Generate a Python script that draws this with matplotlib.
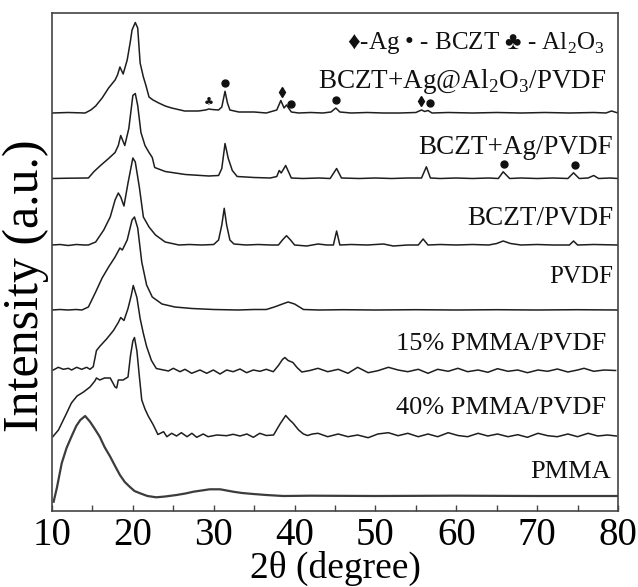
import numpy as np
import matplotlib
matplotlib.use("Agg")
import matplotlib.pyplot as plt
from matplotlib.ticker import MultipleLocator

plt.rcParams['font.family'] = ['Liberation Serif', 'DejaVu Serif', 'DejaVu Sans']
plt.rcParams['mathtext.fontset'] = 'custom'
plt.rcParams['mathtext.rm'] = 'Liberation Serif'

# ---- data: (2theta, relative intensity) pairs ----
bczt_ag_al2o3 = [(10, 0), (12, 0.5), (14.1, 0), (14.8, 3), (15.4, 7), (16.2, 15), (17.0, 25), (17.8, 33),
                 (18.1, 38), (18.4, 46), (18.8, 39), (19.3, 53), (19.7, 72), (19.9, 83), (20.3, 90.5),
                 (20.6, 85), (20.9, 50), (21.3, 36), (21.6, 28), (22.0, 16), (22.5, 13), (23.2, 10),
                 (24.0, 7), (24.8, 5), (26.4, 2), (28.1, 2), (29.0, 3), (29.4, 4), (29.8, 3.5), (30.6, 3),
                 (31.0, 6), (31.4, 21.7), (31.7, 10), (32.0, 3), (33.1, 1), (35, 1), (36.5, 0), (37.8, 3),
                 (38.3, 12.5), (38.7, 5), (39.0, 8), (39.6, 1), (40.5, 0), (42, 0.5), (43.5, 0), (44.5, 1),
                 (45.1, 5), (45.6, 1), (47, 0), (49, 0.5), (51, 0), (53, 0), (55.0, 0.5), (55.7, 3),
                 (56.1, 1.5), (56.5, 2.5), (57.0, 0), (59, 0.5), (62, 0), (65, 0.5), (68, 0), (71, 0.5),
                 (74, 0), (77, 0.5), (78.5, 0), (79.2, 2), (80, 0)]
bczt_ag = [(10, 0), (12, 0.3), (14.5, 0.5), (15.2, 7), (16.0, 13), (17.0, 20), (17.8, 26), (18.2, 33),
           (18.5, 43), (19.0, 33), (19.5, 50), (20.0, 83), (20.3, 85), (20.6, 73), (21.0, 46), (21.5, 33),
           (22.0, 26), (22.4, 21), (22.7, 11), (24.0, 7), (26.5, 4), (29.4, 2.5), (30.6, 3), (31.0, 10),
           (31.4, 35), (31.8, 20), (32.3, 8), (32.9, 2), (35, 1), (37.0, 0.5), (37.8, 2), (38.1, 8),
           (38.35, 5.5), (38.9, 13), (39.6, 0.5), (41, 0), (43, 0.5), (44.4, 0), (45.2, 10), (45.8, 0.5),
           (48, 0), (50, 0.5), (52, 0), (54, 0.5), (55.7, 0.5), (56.3, 11.7), (56.8, 0.5), (58, 0),
           (60, 0.5), (62, 0), (64, 0.5), (65.2, 0), (65.8, 6.7), (66.6, 0), (68, 0.5), (70, 0),
           (72, 0.5), (73.8, 0), (74.5, 5.7), (75.2, 0), (76.3, 0.5), (77.0, 3), (77.6, 0), (79, 0.5), (80, 0)]
bczt = [(10, 0), (11, 0.5), (12, -0.5), (13, 0.5), (14, 0), (14.5, 0), (15.4, 3), (16.4, 15), (17.2, 28),
        (17.8, 45), (18.2, 52), (18.5, 48), (18.9, 39), (19.4, 62), (20.0, 87), (20.3, 83), (20.8, 58),
        (21.3, 28), (22.0, 18), (22.8, 10), (24.0, 3), (25.7, 0), (27, 0.5), (28.5, 0), (30.0, 0.5),
        (30.6, 5), (31.0, 20), (31.3, 36.7), (31.6, 20), (32.0, 5), (32.5, 1), (34, 0), (35.5, 0.5),
        (37, 0), (38.0, 0), (38.5, 5), (39.0, 9.3), (39.5, 5), (40.0, 0), (41.5, -1), (42.9, 1),
        (44.0, 0), (44.8, 0), (45.2, 14), (45.6, 0), (47, 0.5), (49, 0), (51.0, 1), (52.2, -1), (54, 0),
        (55.3, 0), (55.9, 6), (56.5, 0), (58, 0.5), (60, 0), (62, 0.5), (64.0, 0), (65.0, 1.5),
        (65.8, 4), (66.7, 1.5), (68, 0), (70, 0.5), (72, 0), (74.0, 0), (74.5, 4), (75.0, 0),
        (77, 0.5), (80, 0)]
pvdf = [(10, 0), (11, 0.5), (12, 0), (13, 0.5), (13.7, 0), (14.5, 3), (15.4, 18), (16.2, 32), (17.0, 43),
        (17.8, 53), (18.4, 62), (18.7, 60), (19.3, 70), (19.9, 90), (20.2, 93), (20.6, 82), (21.1, 48),
        (21.7, 25), (22.4, 13), (23.6, 6), (25.2, 3), (27.3, 1.5), (30, 0.5), (33, 0), (35, 0.5),
        (36.5, 0.5), (37.5, 3), (38.5, 6), (39.2, 8), (40.0, 6), (41.1, 0.5), (43, 0), (46, 0.3),
        (50, 0), (55, 0.3), (60, 0), (65, 0.3), (70, 0), (75, 0.3), (80, 0)]
pmma15 = [(10.16, 0.5), (10.78, 3.2), (11.40, 1.2), (12.02, 2.2), (12.43, 0.5), (13.05, 3.2), (13.67, 1.2),
          (14.29, 3.2), (14.70, 1.2), (15.1, 3.8), (15.5, 20), (15.9, 24), (16.8, 32), (17.6, 40),
          (18.2, 48), (18.5, 53), (18.9, 50), (19.4, 62), (19.8, 75), (20.05, 85), (20.5, 73), (20.9, 52),
          (21.3, 37), (21.7, 24), (22.3, 10), (22.9, 2), (23.8, 0.5), (24.4, -0.5), (25.0, 2.2),
          (25.83, -1.2), (26.45, 1.2), (27.27, -2.8), (28.3, 0.5), (29.13, -2.8), (29.95, 0.5),
          (30.78, -3.5), (31.6, 0.5), (32.4, -1.2), (33.25, 1.5), (34.07, -2.2), (34.9, 0.5),
          (35.72, -0.8), (36.5, 1.2), (37.37, -1.2), (38.0, 5), (38.5, 11), (38.8, 13), (39.2, 10),
          (39.8, 8), (40.3, 3), (40.9, -1.5), (41.9, 0), (42.9, 2.2), (44.1, -1.2), (45.4, 1.2),
          (46.6, -2.8), (47.8, 3.2), (49.1, -2.2), (50.3, -0.2), (51.6, 3.2), (52.8, 0.5), (54.0, -1.2),
          (55.3, 1.2), (56.5, -2.8), (57.7, 1.2), (59.0, -0.8), (60.2, 2.2), (61.4, -1.2), (62.7, 0.5),
          (63.9, -1.8), (65.1, 1.8), (66.4, -0.8), (67.6, 0.5), (68.8, -2.2), (70.1, 0.5), (71.3, -0.8),
          (72.5, 1.5), (73.8, -1.5), (75.0, 0.5), (75.8, 2.2), (77.0, -0.8), (78.3, 0.5), (79.7, 0)]
pmma40 = [(10.1, -0.7), (10.8, 6), (11.8, 22.7), (12.4, 33), (13.1, 40), (13.9, 44), (14.7, 49),
          (15.3, 55), (15.5, 58), (15.9, 56), (16.5, 58), (17.2, 58), (17.8, 49), (18.0, 48), (18.2, 56),
          (18.8, 56), (19.4, 59), (19.7, 80), (20.0, 95), (20.2, 98.5), (20.5, 85), (20.8, 60),
          (21.1, 36), (21.5, 27), (21.9, 20), (22.5, 11.5), (23.1, 1.5), (23.8, 4.3), (24.2, -0.7),
          (24.8, 2.7), (25.4, 0), (26.0, 3.3), (26.7, -0.7), (27.3, 2.7), (27.9, -1.3), (28.7, 2),
          (29.3, -0.7), (30.4, 1), (31.6, 0.3), (32.4, 1.7), (33.25, 0), (34.1, 2), (34.9, -1.3),
          (35.7, 2.7), (36.5, 0.5), (37.4, 1), (38.2, 12), (38.9, 20.5), (39.4, 16), (39.8, 13),
          (40.5, 6), (41.1, 2), (41.6, 0.5), (42.2, 2), (42.9, 2.7), (44.1, -0.7), (45.4, 2),
          (46.6, -0.7), (47.8, 1), (49.1, -1.7), (50.3, 2), (51.6, 3.3), (52.8, 0.3), (54.0, 2.7),
          (55.3, -0.7), (56.5, 2), (57.7, -0.7), (59.0, 3.3), (60.2, 0.5), (61.4, -0.7), (62.7, 2.7),
          (63.9, 0), (65.1, 2), (66.4, -0.7), (67.6, 1.3), (68.8, -1.3), (70.1, 2.7), (71.3, 0.3),
          (72.5, -0.7), (73.8, 2), (75.0, -0.7), (76.3, 2.7), (77.5, 0), (78.7, 1), (79.8, 0)]
pmma = [(10.2, -5.7), (10.6, 8), (11.2, 32.7), (11.8, 48), (12.4, 59.3), (13.0, 70), (13.5, 76),
        (14.1, 80), (14.7, 74.3), (15.3, 67), (15.9, 59.3), (16.5, 49), (17.2, 39.3), (17.8, 30),
        (18.4, 21), (19.0, 14), (19.6, 9.3), (20.2, 5), (20.9, 2.7), (21.8, 0), (22.9, -1.3), (24.0, -0.5),
        (25.4, 1), (26.5, 2.5), (27.5, 4.3), (28.5, 5.5), (29.5, 6.7), (30.8, 6.7), (31.6, 5.5),
        (32.4, 4.3), (33.5, 3), (34.9, 2), (36.5, 1), (38.6, 0), (42, 0.3), (50, 0), (60, 0.3),
        (70, 0), (80, 0)]

patterns = [bczt_ag_al2o3, bczt_ag, bczt, pvdf, pmma15, pmma40, pmma]
sample_names = ['BCZT+Ag@Al$_\\mathregular{2}$O$_\\mathregular{3}$/PVDF', 'BCZT+Ag/PVDF', 'BCZT/PVDF',
                'PVDF', '15% PMMA/PVDF', '40% PMMA/PVDF', 'PMMA']

# phase marks: (curve index, peak 2theta)
ag_peaks = [(0, 38.4), (0, 55.6)]
bczt_peaks = [(0, 31.4), (0, 39.5), (0, 45.1), (0, 56.7), (1, 65.9), (1, 74.7)]
al2o3_peaks = [(0, 29.4)]

# ---- layout / style ----
offsets = [398, 332.5, 266, 201, 140.5, 75, 15]
label_x = [78.6, 79.4, 79.4, 79.4, 78.5, 78.5, 79.1]
label_y = [422.7, 357, 286, 227.7, 161, 97, 32.7]
label_size = [19.5, 19.5, 19.5, 18, 19, 19, 19]

fig = plt.figure(figsize=(6.38, 5.87), dpi=100)
ax = fig.add_axes([52 / 638, 76 / 587, 566 / 638, 498 / 587])

for i, pat in enumerate(patterns):
    arr = np.array(pat, dtype=float)
    if i == 6:
        ax.plot(arr[:, 0], arr[:, 1] + offsets[i], color='#3c3c3c', lw=1.6)
    else:
        ax.plot(arr[:, 0], arr[:, 1] + offsets[i], color='#1e1e1e', lw=1.1)
    ax.text(label_x[i], label_y[i], sample_names[i], ha='right', va='baseline',
            fontsize=label_size[i], color='#111111')


def mark_y(ci, x0):
    arr = np.array(patterns[ci], dtype=float)
    sel = (arr[:, 0] > x0 - 0.45) & (arr[:, 0] < x0 + 0.45)
    top = arr[sel, 1].max() if sel.any() else np.interp(x0, arr[:, 0], arr[:, 1])
    return top + offsets[ci]


for ci, x0 in ag_peaks:
    ax.plot([x0], [mark_y(ci, x0) + 9], marker='d', ms=5, color='#111111', ls='none')
for ci, x0 in bczt_peaks:
    ax.plot([x0], [mark_y(ci, x0) + 8], marker='o', ms=5, color='#111111', ls='none')
for ci, x0 in al2o3_peaks:
    ax.text(x0, mark_y(ci, x0) + 6, '\u2663', ha='center', va='center', fontsize=8, color='#111111',
            family=['DejaVu Sans'])

ax.text(78.4, 462, '\u2666-Ag \u2022 - BCZT \u2663 - Al$_\\mathregular{2}$O$_\\mathregular{3}$',
        ha='right', va='baseline', fontsize=18, color='#111111')

ax.set_xlim(10, 80)
ax.set_ylim(0, 498)
ax.set_yticks([])
ax.xaxis.set_major_locator(MultipleLocator(10))
ax.xaxis.set_minor_locator(MultipleLocator(5))
ax.tick_params(axis='x', which='both', direction='in', length=4, width=1, color='#444444',
               labelsize=28, pad=4)
for s in ax.spines.values():
    s.set_linewidth(1.2)
    s.set_color('#444444')

ax.set_xlabel('2\u03b8 (degree)', fontsize=27, labelpad=-2)
ax.set_ylabel('Intensity (a.u.)', fontsize=36)
ax.yaxis.set_label_coords(-0.005, 0.452)

fig.savefig('out.png', dpi=100)
